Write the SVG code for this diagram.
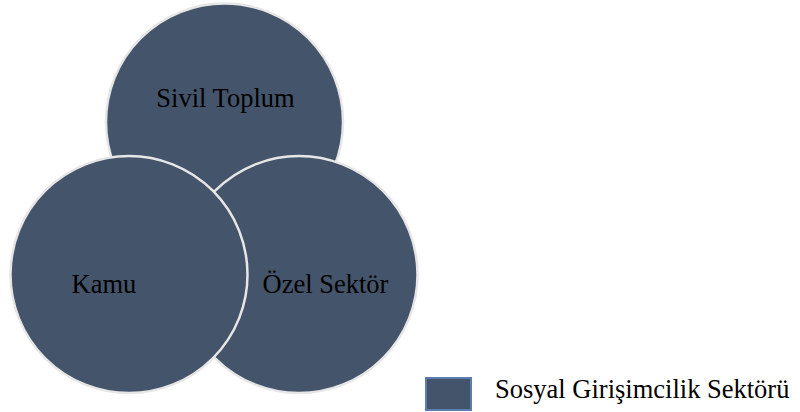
<svg xmlns="http://www.w3.org/2000/svg" width="800" height="412" viewBox="0 0 800 412">
<style>
.c{fill:#44546A;stroke:#E6E6E6;stroke-width:2.5}
.t{font-family:"Liberation Serif","Times New Roman",serif;font-size:26.5px;fill:#000}
</style>
<rect width="800" height="412" fill="#fff"/>
<g id="sivil-toplum"><circle class="c" cx="224.5" cy="122" r="118.5"/><text class="t" x="225.5" y="107" text-anchor="middle">Sivil Toplum</text></g>
<g id="ozel-sektor"><circle class="c" cx="299" cy="274.5" r="118.5"/></g>
<g id="kamu"><circle class="c" cx="129" cy="274.5" r="118.5"/><text class="t" x="104" y="293" text-anchor="middle">Kamu</text></g>
<g id="ozel-label"><text class="t" x="325.5" y="293" text-anchor="middle">Özel Sektör</text></g>
<g id="connectors"></g>
<g id="legend"><rect x="426" y="378" width="45" height="32" fill="#44546A" stroke="#5A7FAF" stroke-width="2"/><text class="t" x="495" y="398">Sosyal Girişimcilik Sektörü</text></g>
</svg>
